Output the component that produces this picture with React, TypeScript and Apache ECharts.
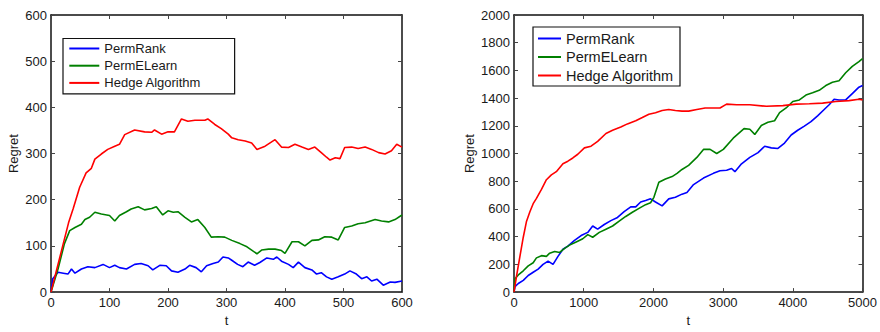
import React, { useEffect, useRef } from "react";
import * as echarts from "echarts";

const FONT = "'Liberation Sans', Arial, Helvetica, sans-serif";
const seriesNames = ["PermRank", "PermELearn", "Hedge Algorithm"];
const seriesColors = ["#0000ff", "#008000", "#ff0000"];

// Left panel (t = 0..600)
const leftRankT = [0,3,12,21,29,35,41,52,63,75,89,100,109,117,129,143,154,166,174,186,197,206,217,229,237,248,257,266,277,286,294,303,309,319,328,337,348,357,369,380,386,394,406,414,423,434,446,454,462,471,480,491,502,511,522,531,540,548,557,568,580,588,600];
const leftRankV = [0,29,43,41,39,50,41,50,55,53,60,53,58,53,50,60,62,57,48,58,57,46,43,50,58,53,44,57,62,65,76,74,69,60,55,65,58,64,74,71,76,67,60,53,65,53,48,39,42,33,28,33,39,46,39,29,33,24,28,15,22,21,24];
const leftLearnT = [0,12,23,32,41,52,58,66,75,86,100,109,117,129,137,149,160,172,180,191,200,209,217,229,240,251,263,274,286,297,309,323,335,343,352,360,372,383,394,400,412,423,434,446,457,468,480,491,502,514,525,537,554,565,577,588,600];
const leftLearnV = [0,50,105,133,140,147,157,162,173,169,166,154,166,174,180,185,178,181,185,167,176,173,174,162,152,157,140,119,120,119,112,105,98,91,83,91,93,93,90,84,109,109,100,112,113,120,119,113,140,143,148,150,157,154,152,157,167];
const leftHedgeT = [0,10,20,30,38,49,60,69,75,86,97,109,117,126,143,160,172,177,189,200,211,223,234,246,263,268,280,291,303,309,320,332,343,352,366,383,394,406,417,429,440,451,462,471,477,486,494,502,514,525,537,548,560,571,582,591,600];
const leftHedgeV = [0,50,100,150,181,227,258,268,288,299,309,316,320,341,351,347,346,351,342,347,347,375,370,372,372,375,363,354,342,334,330,327,323,309,316,330,314,313,320,314,309,314,302,292,286,291,289,313,314,311,314,309,302,299,306,320,314];

// Right panel (t = 0..5000)
const rightRankT = [0,14,62,133,204,275,346,417,489,560,631,702,773,868,963,1058,1129,1200,1295,1390,1485,1580,1675,1746,1817,1888,1959,2030,2125,2220,2315,2410,2481,2576,2718,2860,2955,3050,3121,3169,3264,3383,3501,3596,3691,3786,3881,3976,4070,4165,4260,4355,4450,4521,4592,4663,4758,4853,4948,5000];
const rightRankV = [0,39,62,85,120,143,166,200,224,200,258,309,332,373,408,431,477,454,488,516,539,581,615,615,650,661,673,650,622,673,684,707,719,776,823,857,876,880,892,869,926,972,1007,1053,1041,1037,1076,1134,1168,1198,1230,1272,1318,1352,1392,1387,1387,1433,1479,1491];
const rightLearnT = [0,14,62,133,204,275,322,394,465,512,583,655,726,797,892,987,1058,1129,1224,1319,1414,1509,1603,1698,1793,1888,1959,2007,2078,2173,2268,2339,2410,2505,2623,2718,2813,2908,3003,3145,3300,3383,3454,3548,3643,3738,3810,3904,3999,4094,4188,4283,4378,4473,4568,4663,4758,4853,4948,5000];
const rightLearnV = [0,97,124,154,189,212,247,263,258,281,293,286,316,339,362,385,415,396,431,454,477,512,546,576,604,631,645,684,793,816,834,857,885,915,972,1030,1030,1000,1030,1111,1180,1175,1138,1203,1226,1237,1295,1329,1376,1387,1422,1438,1456,1491,1514,1525,1583,1629,1664,1685];
const rightHedgeT = [0,38,85,133,180,228,275,322,394,465,536,607,702,773,844,915,1010,1105,1200,1319,1414,1532,1627,1746,1841,1935,2030,2125,2220,2315,2410,2505,2623,2742,2813,2955,3050,3193,3383,3620,3858,4047,4237,4427,4616,4806,4948,5000];
const rightHedgeV = [0,120,258,396,512,580,638,677,742,811,846,869,926,945,968,995,1041,1053,1088,1145,1168,1191,1214,1237,1260,1283,1295,1311,1318,1311,1306,1306,1318,1329,1329,1329,1357,1352,1352,1341,1346,1357,1359,1364,1376,1382,1392,1387];

const leftX = { min: 0, max: 600, interval: 100 };
const leftY = { min: 0, max: 600, interval: 100 };
const rightX = { min: 0, max: 5000, interval: 1000 };
const rightY = { min: 0, max: 2000, interval: 200 };

const zip = (t: number[], v: number[]) => t.map((x, i) => [x, v[i]]);

function axis(extra: any, showLabel: boolean) {
  return {
    type: "value",
    ...extra,
    axisLine: { show: true, onZero: false, lineStyle: { color: "#111", width: 1.5 } },
    axisTick: { show: true, inside: true, length: 4, lineStyle: { color: "#444", width: 1 } },
    splitLine: { show: false },
    axisLabel: {
      show: showLabel,
      color: "#1a1a1a",
      fontSize: 13,
      fontFamily: FONT,
      margin: 4,
      formatter: (v: number) => String(v),
    },
    nameTextStyle: { color: "#1a1a1a", fontSize: 13, fontFamily: FONT },
  };
}

function line(name: string, color: string, data: number[][], idx: number) {
  return {
    name,
    type: "line",
    xAxisIndex: idx,
    yAxisIndex: idx,
    data,
    showSymbol: false,
    symbol: "none",
    lineStyle: { color, width: 1.6 },
    itemStyle: { color },
    emphasis: { disabled: true },
  };
}

export default function App() {
  const ref = useRef<HTMLDivElement>(null);
  useEffect(() => {
    if (!ref.current) return;
    const chart = echarts.init(ref.current, undefined, { renderer: "svg" });
    const option: any = {
      animation: false,
      backgroundColor: "#ffffff",
      grid: [
        { left: 51, top: 15, width: 351, height: 289 },
        { left: 514, top: 15, width: 351, height: 289 },
      ],
      xAxis: [
        axis({ gridIndex: 0, position: "bottom", ...leftX, name: "t", nameLocation: "middle", nameGap: 18 }, true),
        axis({ gridIndex: 0, position: "top", ...leftX }, false),
        axis({ gridIndex: 1, position: "bottom", ...rightX, name: "t", nameLocation: "middle", nameGap: 18 }, true),
        axis({ gridIndex: 1, position: "top", ...rightX }, false),
      ],
      yAxis: [
        axis({ gridIndex: 0, position: "left", ...leftY, name: "Regret", nameLocation: "middle", nameGap: 31 }, true),
        axis({ gridIndex: 0, position: "right", ...leftY }, false),
        axis({ gridIndex: 1, position: "left", ...rightY, name: "Regret", nameLocation: "middle", nameGap: 38 }, true),
        axis({ gridIndex: 1, position: "right", ...rightY }, false),
      ],
      legend: [
        {
          data: seriesNames,
          orient: "vertical",
          left: 63,
          top: 38.5,
          padding: [2, 33.5, 3, 6.3],
          itemWidth: 30,
          itemHeight: 2,
          itemGap: 1.2,
          icon: "rect",
          borderColor: "#111",
          borderWidth: 1.2,
          backgroundColor: "#fff",
          selectedMode: false,
          textStyle: { fontSize: 13, lineHeight: 16, color: "#1a1a1a", fontFamily: FONT },
        },
        {
          data: seriesNames,
          orient: "vertical",
          left: 533,
          top: 27,
          padding: [3, 6, 2, 5],
          itemWidth: 23,
          itemHeight: 2,
          itemGap: 1.5,
          icon: "rect",
          borderColor: "#111",
          borderWidth: 1.2,
          backgroundColor: "#fff",
          selectedMode: false,
          textStyle: { fontSize: 14.5, lineHeight: 17, color: "#1a1a1a", fontFamily: FONT },
        },
      ],
      series: [
        line(seriesNames[0], seriesColors[0], zip(leftRankT, leftRankV), 0),
        line(seriesNames[1], seriesColors[1], zip(leftLearnT, leftLearnV), 0),
        line(seriesNames[2], seriesColors[2], zip(leftHedgeT, leftHedgeV), 0),
        line(seriesNames[0], seriesColors[0], zip(rightRankT, rightRankV), 2),
        line(seriesNames[1], seriesColors[1], zip(rightLearnT, rightLearnV), 2),
        line(seriesNames[2], seriesColors[2], zip(rightHedgeT, rightHedgeV), 2),
      ],
    };
    chart.setOption(option);
    return () => chart.dispose();
  }, []);
  return (
    <div
      ref={ref}
      style={{ position: "absolute", left: 0, top: 0, width: 880, height: 332, background: "#fff" }}
    />
  );
}
